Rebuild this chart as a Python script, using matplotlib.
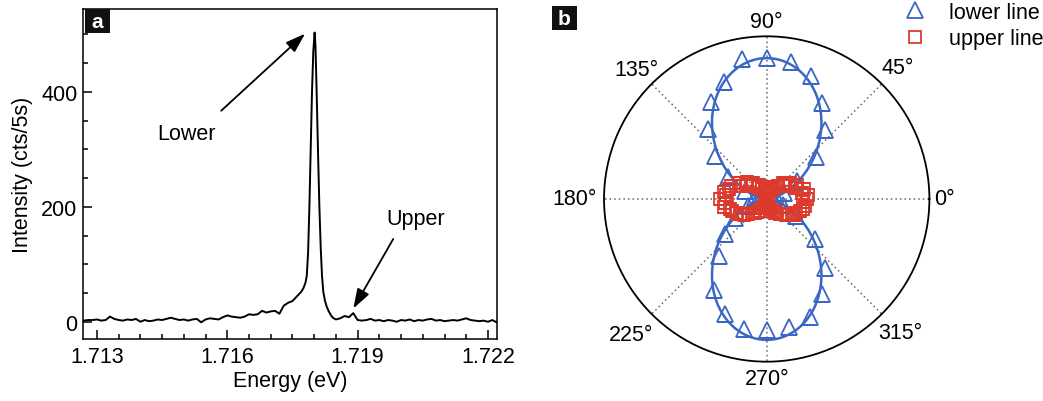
import numpy as np
import matplotlib
matplotlib.use("Agg")
from matplotlib import pyplot as plt
from matplotlib.ticker import MultipleLocator
from matplotlib.patches import Rectangle

plt.rcParams["font.family"] = ["Liberation Sans", "DejaVu Sans"]
plt.rcParams["font.size"] = 15.5

# PL spectrum (panel a)
energy = [
    1.7127, 1.7128, 1.7129, 1.7130, 1.7131, 1.7132, 1.7133, 1.7134, 1.7135, 1.7136,
    1.7137, 1.7138, 1.7139, 1.7140, 1.7141, 1.7142, 1.7143, 1.7144, 1.7145, 1.7146,
    1.7147, 1.7148, 1.7149, 1.7150, 1.7151, 1.7152, 1.7153, 1.7154, 1.7155, 1.7156,
    1.7157, 1.7158, 1.7159, 1.7160, 1.7161, 1.7162, 1.7163, 1.7164, 1.7165, 1.7166,
    1.7167, 1.7168, 1.7169, 1.7170, 1.7171, 1.7172, 1.7173, 1.7174, 1.7175, 1.7176,
    1.7177, 1.71775, 1.71780, 1.71783, 1.71786, 1.71789, 1.71792, 1.71795, 1.71798,
    1.71801, 1.71803, 1.71806, 1.71809, 1.71812, 1.71815, 1.71818, 1.71821, 1.71825,
    1.71829, 1.71833, 1.71838, 1.71843, 1.7185, 1.7186, 1.7187, 1.7188, 1.7189,
    1.7190, 1.7191, 1.7192, 1.7193, 1.7194, 1.7195, 1.7196, 1.7197, 1.7198, 1.7199,
    1.7200, 1.7201, 1.7202, 1.7203, 1.7204, 1.7205, 1.7206, 1.7207, 1.7208, 1.7209,
    1.7210, 1.7211, 1.7212, 1.7213, 1.7214, 1.7215, 1.7216, 1.7217, 1.7218, 1.7219,
    1.7220, 1.7221, 1.7222,
]
counts = [
    2, 3, 3, 4, 2, 3, 9, 5, 3, 2,
    4, 3, 5, 0, 3, 1, 2, 4, 3, 5,
    7, 5, 3, 4, 2, 4, 5, -1, 4, 6,
    5, 4, 8, 11, 9, 8, 7, 9, 13, 12,
    13, 19, 16, 18, 19, 14, 28, 33, 36, 44,
    52, 58, 68, 80, 120, 200, 300, 400, 470,
    503, 480, 390, 290, 200, 130, 80, 52, 36,
    26, 19, 12, 7, 4, 6, 10, 8, 15,
    3, 2, 3, 5, 2, 3, 1, 3, 2, 0,
    3, 2, 4, 1, 3, 2, 4, 5, 2, 3,
    1, 2, 3, 2, 4, 6, 3, 2, 1, 2,
    0, 3, -1,
]

# polarization dependence (panel b), angle in degrees
angle_lower = [0, 10, 20, 30, 40, 50, 60, 70, 80, 90, 100, 110, 120, 130, 140, 150, 160, 170,
               180, 190, 200, 210, 220, 230, 240, 250, 260, 270, 280, 290, 300, 310, 320, 330, 340, 350]
lower_line = [15, 28, 58, 108, 199, 278, 342, 402, 428, 432, 437, 383, 343, 280, 207, 138, 72, 35,
              20, 30, 62, 114, 166, 229, 323, 375, 407, 403, 399, 387, 338, 278, 193, 105, 52, 24]

angle_upper = list(range(0, 360, 5))
upper_line = [123, 128, 110, 118, 96, 104, 80, 86, 66, 70, 52, 44, 38, 30, 34, 22, 26, 18,
              20, 16, 28, 22, 38, 34, 48, 44, 64, 58, 80, 76, 98, 92, 116, 120, 132, 126,
              144, 128, 134, 118, 112, 100, 94, 84, 74, 60, 56, 48, 42, 32, 30, 24, 22, 18,
              20, 16, 24, 30, 34, 40, 50, 48, 62, 66, 78, 84, 96, 100, 108, 116, 120, 112]

# cos^2 fit parameters: amplitude, offset
lower_fit = (425, 8)
upper_fit = (103, 2)

blue = "#3a66c4"
red = "#dc3a2c"

fig = plt.figure(figsize=(10.43, 4.02), dpi=100)

# ---- panel a ----
ax1 = fig.add_axes([0.0796, 0.1542, 0.397, 0.821])
ax1.plot(energy, counts, color="black", lw=1.4)
ax1.set_xlim(1.71268, 1.72221)
ax1.set_ylim(-30, 544)
ax1.set_xticks([1.713, 1.716, 1.719, 1.722])
ax1.set_xticklabels(["1.713", "1.716", "1.719", "1.722"])
ax1.xaxis.set_minor_locator(MultipleLocator(0.0005))
ax1.set_yticks([0, 200, 400])
ax1.yaxis.set_minor_locator(MultipleLocator(50))
ax1.tick_params(which="both", direction="in", top=False, right=False, width=1.1)
ax1.tick_params(which="major", length=6.5)
ax1.tick_params(which="minor", length=3.5)
ax1.tick_params(axis="x", pad=5)
ax1.tick_params(axis="y", pad=4)
for s in ax1.spines.values():
    s.set_linewidth(1.1)
ax1.set_xlabel("Energy (eV)", labelpad=2)
ax1.set_ylabel("Intensity (cts/5s)", labelpad=6)

arrow = dict(arrowstyle="-|>,head_length=0.75,head_width=0.25", color="black", lw=1.3,
             mutation_scale=16, shrinkA=0, shrinkB=0)
ax1.annotate("", xy=(1.71779, 501), xytext=(1.71586, 367), arrowprops=arrow)
ax1.text(1.71507, 327, "Lower", ha="center", va="center")
ax1.annotate("", xy=(1.7189, 23), xytext=(1.71982, 144), arrowprops=arrow)
ax1.text(1.72033, 179, "Upper", ha="center", va="center")

# ---- panel b ----
ax2 = fig.add_axes([0.5791, 0.0978, 0.312, 0.8094], projection="polar")
th = np.linspace(0, 2 * np.pi, 721)
ax2.plot(th, lower_fit[0] * np.sin(th) ** 2 + lower_fit[1], color=blue, lw=1.8, zorder=3)
ax2.plot(np.deg2rad(angle_lower), lower_line, ls="none", marker="^", ms=11, mfc="none",
         mec=blue, mew=1.3, label="lower line", zorder=4)
ax2.plot(np.deg2rad(angle_upper), upper_line, ls="none", marker="s", ms=8, mfc="none",
         mec=red, mew=1.3, label="upper line", zorder=5)
ax2.plot(th, upper_fit[0] * np.cos(th) ** 2 + upper_fit[1], color=red, lw=1.5, zorder=6)

ax2.set_ylim(0, 500)
ax2.set_yticks([])
grid_angles = [0, 45, 90, 135, 180, 225, 270, 315]
ax2.set_xticks(np.deg2rad(grid_angles))
ax2.set_xticklabels([])
ax2.grid(True, axis="x", linestyle=(0, (1, 2)), color="0.4", lw=1.1)
ax2.tick_params(axis="x", direction="in", length=5, width=1.3)
ax2.spines["polar"].set_linewidth(1.3)

label_pos = {0: (515, "left"), 180: (522, "right"), 90: (547, "center"), 270: (553, "center"),
             45: (570, "center"), 135: (565, "center"), 225: (588, "center"), 315: (582, "center")}
for a in grid_angles:
    r, ha = label_pos[a]
    ax2.text(np.deg2rad(a), r, f"{a}°", ha=ha, va="center", clip_on=False)

fig.legend(loc="upper left", bbox_to_anchor=(0.8667, 0.993), bbox_transform=fig.transFigure,
           frameon=False, borderpad=0, borderaxespad=0, handlelength=1.0,
           handletextpad=1.1, labelspacing=0.25)

# panel tags
for (x0, y0), tag in [((85, 10), "a"), ((552, 7), "b")]:
    fig.add_artist(Rectangle((x0 / 1043, 1 - (y0 + 24) / 402), 25 / 1043, 24 / 402,
                             transform=fig.transFigure, facecolor="#111111", edgecolor="none"))
    fig.text((x0 + 12.5) / 1043, 1 - (y0 + 12.5) / 402, tag, color="white", fontweight="bold",
             ha="center", va="center", fontsize=15)

fig.savefig("out.png", dpi=100)
